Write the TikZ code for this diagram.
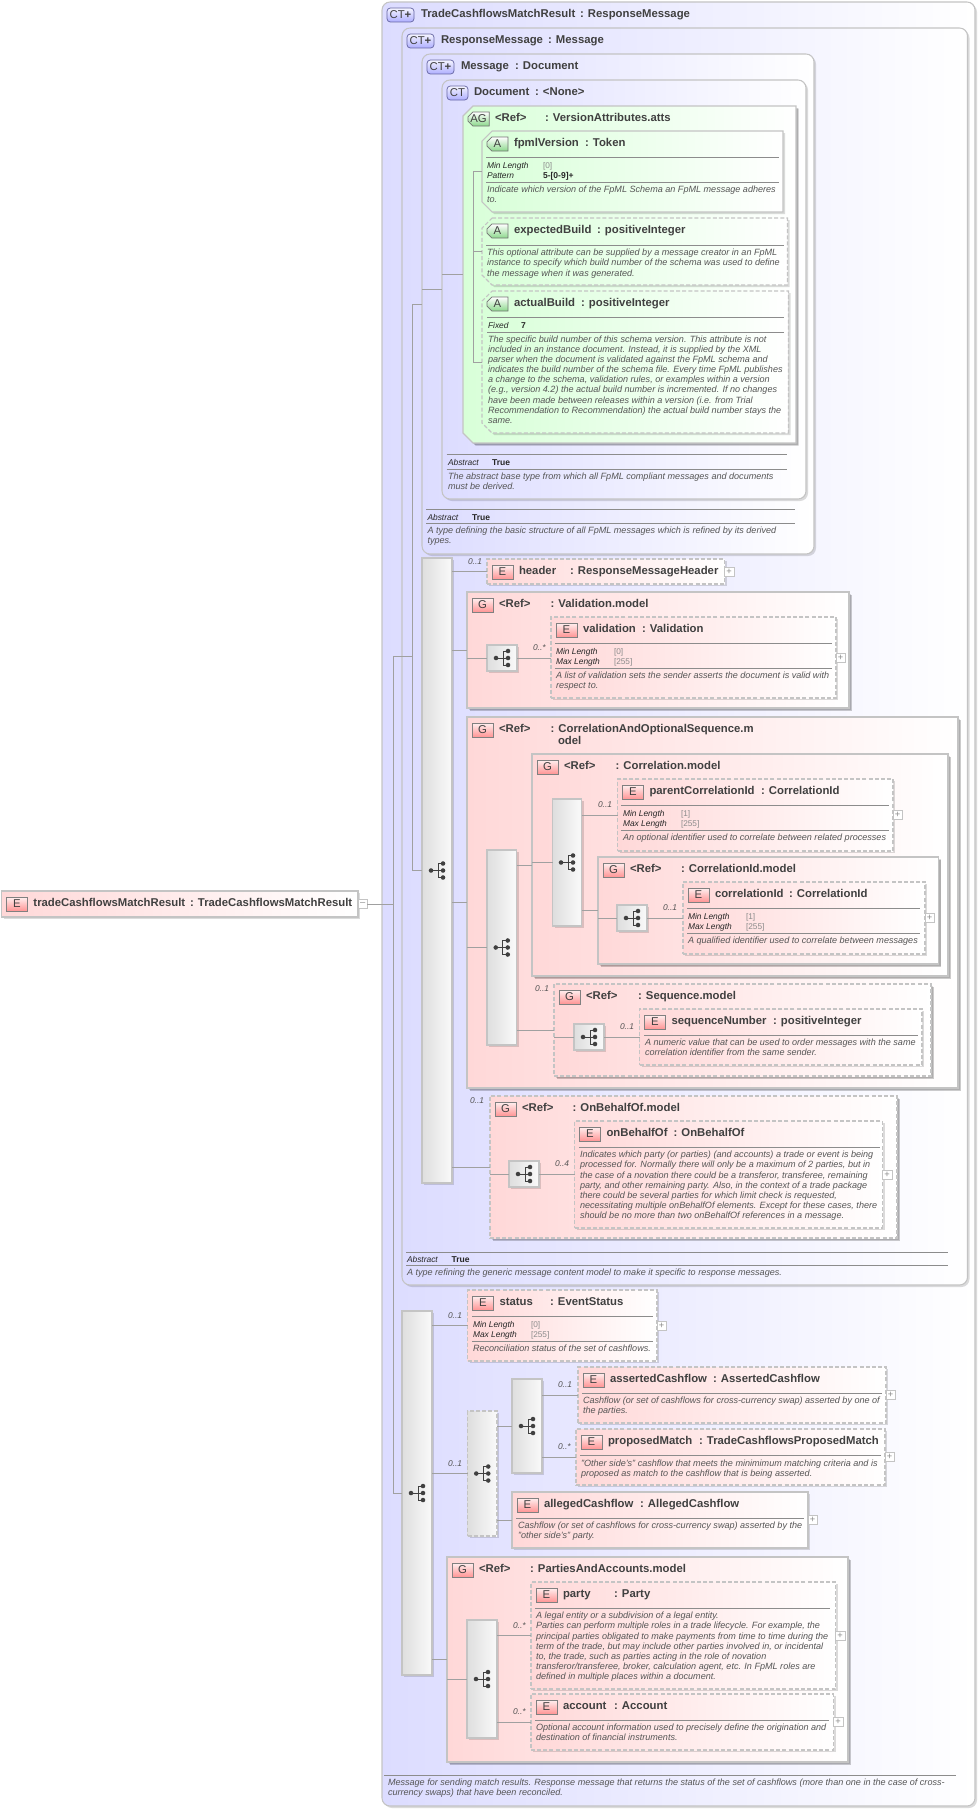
\documentclass[tikz,border=0pt]{standalone}
\usepackage{fontspec}
\setmainfont{Liberation Sans}
\usetikzlibrary{positioning,shadows,shapes.misc}

\definecolor{ctblue}{HTML}{DCDCFF}
\definecolor{elpink}{HTML}{FFD8D8}
\definecolor{atgreen}{HTML}{D8FFD8}
\definecolor{icgreen}{HTML}{8CD88C}
\definecolor{txtdark}{HTML}{404040}
\definecolor{txtdescr}{HTML}{555555}
\definecolor{linegray}{HTML}{A0A0A0}
\definecolor{edgegray}{HTML}{C4C4C4}

% box from its corners, in pixels of the reference
\newcommand{\bx}[6]{%
  \coordinate (#2-o) at (#3,#4);
  \node[#1,minimum width={(#5-#3)*.75pt},minimum height={(#6-#4)*.75pt}] (#2) at ({(#3+#5)/2},{(#4+#6)/2}) {};}
% same, with the two left corners cut by 10 pixels
\newcommand{\abx}[6]{%
  \draw[#1] (#3+10,#4) -- (#5,#4) -- (#5,#6) -- (#3+10,#6) -- (#3,#6-10) -- (#3,#4+10) -- cycle;
  \bx{rectangle}{#2}{#3}{#4}{#5}{#6}}
% icon and title of a box
\newcommand{\ttl}[7][32]{%
  \node[#3] (#2-i) at ([shift={(5,13)}]#2-o) {#4};
  \node[ttlfont] (#2-n) at ([shift={(#1,15.5)}]#2-o) {#5};
  \node[ttlfont] (#2-c) at (#6,0 |- #2-n.base west) {: #7};}
% facet line
\newcommand{\fct}[6]{%
  \node[fctname] (#1-a) at (#2,#3) {#4};
  \node[fctval] (#1-b) at (#5,#3) {#6};}
\newcommand{\fctb}[6]{%
  \node[fctname] (#1-a) at (#2,#3) {#4};
  \node[fctbold] (#1-b) at (#5,#3) {#6};}

\begin{document}
\begin{tikzpicture}[x=.75pt,y=-.75pt,inner sep=0pt,outer sep=0pt,
    seqmark/.pic={
      \draw[txtdark,line width=.6pt] (-6,0) -- (1,0) (6,-7) -- (1,-7) -- (1,7) -- (6,7) (1,0) -- (6,0);
      \foreach \yy in {-7,0,7} \fill[txtdark] (6,\yy) circle (1.7pt);
      \fill[txtdark] (-6,0) circle (1.7pt);
    }]
  \tikzstyle{softshadow}=[drop shadow={shadow xshift=1.5pt,shadow yshift=-1.5pt,opacity=.14,fill=black}]
  \tikzstyle{ctbox}=[rectangle,rounded corners=6pt,draw=edgegray,line width=.8pt,left color=ctblue,right color=white,softshadow]
  \tikzstyle{elbox}=[rectangle,draw=edgegray,line width=.8pt,left color=elpink,right color=white,softshadow]
  \tikzstyle{elopt}=[elbox,dash pattern=on 3pt off 1.6pt]
  \tikzstyle{grpbox}=[elbox,line width=1pt,drop shadow={shadow xshift=2pt,shadow yshift=-2pt,opacity=.2,fill=black}]
  \tikzstyle{gropt}=[grpbox,dash pattern=on 3pt off 1.6pt]
  \tikzstyle{atbox}=[draw=edgegray,line width=.8pt,left color=atgreen,right color=white,softshadow]
  \tikzstyle{atopt}=[atbox,dash pattern=on 3pt off 1.6pt]
  \tikzstyle{agbox}=[atbox,line width=1pt,drop shadow={shadow xshift=2pt,shadow yshift=-2pt,opacity=.2,fill=black}]
  \tikzstyle{barbox}=[rectangle,draw=edgegray,line width=.8pt,left color=black!13,right color=black!2,softshadow]
  \tikzstyle{baropt}=[barbox,dash pattern=on 3pt off 1.6pt]
  \tikzstyle{plusbox}=[rectangle,draw=edgegray,fill=white,line width=.5pt,minimum size=7pt,font=\fontsize{7}{7}\selectfont,text=black!45]
  \tikzstyle{conn}=[draw=linegray,line width=.65pt]
  \tikzstyle{sepline}=[draw=black!45,line width=.55pt]
  \tikzstyle{ttlfont}=[anchor=base west,font=\fontsize{8.5}{10}\selectfont\bfseries,text=txtdark]
  \tikzstyle{icn}=[rectangle,anchor=west,draw=black!50,line width=.55pt,minimum width=15.75pt,minimum height=10.5pt,font=\fontsize{8.5}{9}\selectfont,text=txtdark]
  \tikzstyle{iconE}=[icn,top color=red!6,bottom color=red!42]
  \tikzstyle{iconCT}=[icn,rounded corners=2.5pt,draw=blue!40!black!60,top color=blue!4,bottom color=blue!32]
  \tikzstyle{iconCTP}=[iconCT,minimum width=20.25pt]
  \tikzstyle{iconA}=[chamfered rectangle,chamfered rectangle corners={north west,south west},chamfered rectangle sep=1.8pt,anchor=west,draw=black!55,line width=.55pt,minimum width=15.75pt,minimum height=10.5pt,font=\fontsize{8.5}{9}\selectfont,text=txtdark,top color=white,bottom color=icgreen]
  \tikzstyle{descr}=[anchor=north west,align=left,yshift=-.9pt,font=\fontsize{6.8}{7.6}\selectfont\itshape,text=txtdescr]
  \tikzstyle{fctname}=[anchor=base west,font=\fontsize{6.3}{7.6}\selectfont\itshape,text=black!85]
  \tikzstyle{fctval}=[anchor=base west,font=\fontsize{6.2}{7}\selectfont,text=black!45]
  \tikzstyle{fctbold}=[anchor=base west,font=\fontsize{6.4}{7}\selectfont\bfseries,text=black!85]
  \tikzstyle{occ}=[anchor=base west,font=\fontsize{6.3}{7.6}\selectfont\itshape,text=txtdescr]

  \useasboundingbox (0,0) rectangle (979,1809);

  % Complex types
  \bx{ctbox}{tcmr}{382}{2}{975}{1806}
  \bx{ctbox}{resp}{402}{28}{967.5}{1285}
  \bx{ctbox}{msg}{422}{54}{814}{554}
  \bx{ctbox}{doc}{442}{80}{806}{499}
  \ttl[39]{tcmr}{iconCTP}{CT\textbf{+}}{TradeCashflowsMatchResult}{580}{ResponseMessage}
  \ttl[39]{resp}{iconCTP}{CT\textbf{+}}{ResponseMessage}{548}{Message}
  \ttl[39]{msg}{iconCTP}{CT\textbf{+}}{Message}{515}{Document}
  \ttl{doc}{iconCT}{CT}{Document}{535}{<None>}

  % Attributes
  \abx{agbox}{vers}{463}{106}{796}{443}
  \ttl{vers}{iconA}{AG}{<Ref>}{545}{VersionAttributes.atts}
  \abx{atbox}{fpml}{482}{131}{783}{212}
  \ttl{fpml}{iconA}{A}{fpmlVersion}{585}{Token}
  \fct{fpml-f1}{487}{168}{Min Length}{543}{[0]}
  \fctb{fpml-f2}{487}{178}{Pattern}{543}{5-[0-9]+}
  \node[descr] (fpml-d) at (487,185) {Indicate which version of the FpML Schema an FpML message adheres\\to.};
  \abx{atopt}{expb}{482}{218}{787.5}{285}
  \ttl{expb}{iconA}{A}{expectedBuild}{597}{positiveInteger}
  \node[descr] (expb-d) at (487,248) {This optional attribute can be supplied by a message creator in an FpML\\instance to specify which build number of the schema was used to define\\the message when it was generated.};
  \abx{atopt}{actb}{482}{291}{788.5}{433}
  \ttl{actb}{iconA}{A}{actualBuild}{581}{positiveInteger}
  \fctb{actb-f1}{488}{328}{Fixed}{521}{7}
  \node[descr] (actb-d) at (488,334.5) {The specific build number of this schema version. This attribute is not\\included in an instance document. Instead, it is supplied by the XML\\parser when the document is validated against the FpML schema and\\indicates the build number of the schema file. Every time FpML publishes\\a change to the schema, validation rules, or examples within a version\\(e.g., version 4.2) the actual build number is incremented. If no changes\\have been made between releases within a version (i.e. from Trial\\Recommendation to Recommendation) the actual build number stays the\\same.};

  % Footers of the types
  \fctb{doc-f1}{448}{465}{Abstract}{492}{True}
  \node[descr] (doc-d) at (448,472) {The abstract base type from which all FpML compliant messages and documents\\must be derived.};
  \fctb{msg-f1}{427.5}{520}{Abstract}{472}{True}
  \node[descr] (msg-d) at (427.5,526) {A type defining the basic structure of all FpML messages which is refined by its derived\\types.};
  \fctb{resp-f1}{407}{1262}{Abstract}{451.5}{True}
  \node[descr] (resp-d) at (407,1268) {A type refining the generic message content model to make it specific to response messages.};
  \node[descr] (tcmr-d) at (388,1778) {Message for sending match results. Response message that returns the status of the set of cashflows (more than one in the case of cross-\\currency swaps) that have been reconciled.};

  % Response message content
  \bx{barbox}{barA}{422}{558}{452}{1183}
  \bx{elopt}{head}{487}{559}{724.5}{584}
  \ttl{head}{iconE}{E}{header}{570}{ResponseMessageHeader}

  \bx{grpbox}{gval}{467}{592}{849}{708}
  \ttl{gval}{iconE}{G}{<Ref>}{550.5}{Validation.model}
  \bx{barbox}{seqval}{487}{645}{517}{671}
  \bx{elopt}{vali}{551}{617}{836}{698}
  \ttl{vali}{iconE}{E}{validation}{642}{Validation}
  \fct{vali-f1}{556}{654}{Min Length}{614}{[0]}
  \fct{vali-f2}{556}{664}{Max Length}{614}{[255]}
  \node[descr] (vali-d) at (556,671) {A list of validation sets the sender asserts the document is valid with\\respect to.};

  \bx{grpbox}{gcaos}{467}{717}{958}{1088}
  \ttl{gcaos}{iconE}{G}{<Ref>}{550.5}{CorrelationAndOptionalSequence.m}
  \node[ttlfont] (gcaos-c2) at (558,744) {odel};
  \bx{barbox}{barB}{487}{850}{516.5}{1045}

  \bx{grpbox}{gcorr}{532}{754}{948}{976}
  \ttl{gcorr}{iconE}{G}{<Ref>}{615.5}{Correlation.model}
  \bx{barbox}{barC}{552.5}{799}{581.5}{926}
  \bx{elopt}{pcid}{617.5}{779}{893}{851}
  \ttl{pcid}{iconE}{E}{parentCorrelationId}{761}{CorrelationId}
  \fct{pcid-f1}{623}{816}{Min Length}{681}{[1]}
  \fct{pcid-f2}{623}{826}{Max Length}{681}{[255]}
  \node[descr] (pcid-d) at (623,833) {An optional identifier used to correlate between related processes};

  \bx{grpbox}{gcid}{598}{857}{938.5}{964}
  \ttl{gcid}{iconE}{G}{<Ref>}{681}{CorrelationId.model}
  \bx{barbox}{seqcid}{617}{905}{647}{931}
  \bx{elopt}{cid}{683}{882}{925}{954}
  \ttl{cid}{iconE}{E}{correlationId}{789}{CorrelationId}
  \fct{cid-f1}{688}{919}{Min Length}{746}{[1]}
  \fct{cid-f2}{688}{929}{Max Length}{746}{[255]}
  \node[descr] (cid-d) at (688,936) {A qualified identifier used to correlate between messages};

  \bx{gropt}{gseq}{554}{984}{931}{1076}
  \ttl{gseq}{iconE}{G}{<Ref>}{638}{Sequence.model}
  \bx{barbox}{seqsn}{574}{1024}{604}{1050}
  \bx{elopt}{snum}{639.5}{1009}{922}{1065}
  \ttl{snum}{iconE}{E}{sequenceNumber}{773}{positiveInteger}
  \node[descr] (snum-d) at (645,1038) {A numeric value that can be used to order messages with the same\\correlation identifier from the same sender.};

  \bx{gropt}{gobo}{490}{1096}{897}{1238}
  \ttl{gobo}{iconE}{G}{<Ref>}{572.5}{OnBehalfOf.model}
  \bx{barbox}{seqob}{509}{1161}{539}{1187}
  \bx{elopt}{obo}{574.5}{1121}{882.5}{1228}
  \ttl{obo}{iconE}{E}{onBehalfOf}{673.5}{OnBehalfOf}
  \node[descr] (obo-d) at (580,1150) {Indicates which party (or parties) (and accounts) a trade or event is being\\processed for. Normally there will only be a maximum of 2 parties, but in\\the case of a novation there could be a transferor, transferee, remaining\\party, and other remaining party. Also, in the context of a trade package\\there could be several parties for which limit check is requested,\\necessitating multiple onBehalfOf elements. Except for these cases, there\\should be no more than two onBehalfOf references in a message.};

  % Second sequence
  \bx{barbox}{barD}{402}{1311}{432}{1675}
  \bx{elopt}{stat}{467.5}{1290}{657}{1361}
  \ttl{stat}{iconE}{E}{status}{550}{EventStatus}
  \fct{stat-f1}{473}{1327}{Min Length}{531}{[0]}
  \fct{stat-f2}{473}{1337}{Max Length}{531}{[255]}
  \node[descr] (stat-d) at (473,1344) {Reconciliation status of the set of cashflows.};

  \bx{baropt}{barE}{467.5}{1411}{497}{1536}
  \bx{barbox}{barF}{512}{1379}{542}{1473}
  \bx{elopt}{asrt}{578}{1367}{886}{1423}
  \ttl{asrt}{iconE}{E}{assertedCashflow}{713}{AssertedCashflow}
  \node[descr] (asrt-d) at (583,1396) {Cashflow (or set of cashflows for cross-currency swap) asserted by one of\\the parties.};
  \bx{elopt}{prop}{576}{1429}{885}{1485}
  \ttl{prop}{iconE}{E}{proposedMatch}{699}{TradeCashflowsProposedMatch}
  \node[descr] (prop-d) at (581,1458.5) {"Other side's" cashflow that meets the minimimum matching criteria and is\\proposed as match to the cashflow that is being asserted.};
  \bx{elbox}{algd}{512}{1492}{808}{1548}
  \ttl{algd}{iconE}{E}{allegedCashflow}{640}{AllegedCashflow}
  \node[descr] (algd-d) at (518,1521) {Cashflow (or set of cashflows for cross-currency swap) asserted by the\\"other side's" party.};

  \bx{grpbox}{gpaa}{447}{1557}{848}{1762}
  \ttl{gpaa}{iconE}{G}{<Ref>}{530}{PartiesAndAccounts.model}
  \bx{barbox}{barG}{467}{1620}{497}{1738}
  \bx{elopt}{pty}{531}{1582}{835.5}{1689}
  \ttl{pty}{iconE}{E}{party}{614}{Party}
  \node[descr] (pty-d) at (536,1611) {A legal entity or a subdivision of a legal entity.\\Parties can perform multiple roles in a trade lifecycle. For example, the\\principal parties obligated to make payments from time to time during the\\term of the trade, but may include other parties involved in, or incidental\\to, the trade, such as parties acting in the role of novation\\transferor/transferee, broker, calculation agent, etc. In FpML roles are\\defined in multiple places within a document.};
  \bx{elopt}{acct}{531}{1694}{833.5}{1750}
  \ttl{acct}{iconE}{E}{account}{614}{Account}
  \node[descr] (acct-d) at (536,1723) {Optional account information used to precisely define the origination and\\destination of financial instruments.};

  % Root element
  \bx{elbox}{root}{1.5}{891}{358}{917}
  \ttl{root}{iconE}{E}{tradeCashflowsMatchResult}{190}{TradeCashflowsMatchResult}
  \node[plusbox,right=0pt of root] (root-p) {--};

  % Rules inside the boxes
  \foreach \xa/\xb/\yy in {486/779/157,486/779/182.5,486/784/245,487/784/317,487/784/332,
      446.5/787/454,446.5/787/469,426/795/509,426/795/523,406/948/1252,406/948/1265,
      555/832/643,555/832/668,621/889/805,621/889/830.5,687/920/908,687/920/933,644/918/1035,
      579/880/1147,472/653/1316,472/653/1341,582/882/1393,580/881/1455,516/804/1518,
      535/830/1608,535/829/1720,384/956/1775}
    \draw[sepline] (\xa,\yy) -- (\xb,\yy);

  % Occurrence labels
  \foreach \xx/\yy/\lbl [count=\i] in {468/564/0..1,533/650/0..*,598/807/0..1,663/910/0..1,535/991/0..1,
      620/1029/0..1,470/1103/0..1,555/1166/0..4,448/1318/0..1,448/1466/0..1,558/1387/0..1,558/1449/0..*,
      513/1628/0..*,513/1714/0..*}
    \node[occ] (occ\i) at (\xx,\yy) {\lbl};

  % Plus boxes
  \foreach \nd in {head,vali,pcid,cid,obo,stat,asrt,prop,algd,pty,acct}
    \node[plusbox,right=0pt of \nd] (\nd-p) {+};

  % Compositor marks
  \foreach \nd in {barA,barB,barC,barD,barE,barF,barG,seqval,seqcid,seqsn,seqob}
    \pic at (\nd) {seqmark};

  % Connectors
  \foreach \a/\b in {barA/head,barA/gval,barA/gcaos,barA/gobo,barB/gcorr,barB/gseq,barC/pcid,barC/gcid,
      barD/stat,barD/barE,barD/gpaa,barE/barF,barE/algd,barF/asrt,barF/prop,barG/pty,barG/acct}
    \draw[conn] (\a.east |- \b.west) -- (\b.west);
  \foreach \a/\b in {seqval/vali,seqcid/cid,seqsn/snum,seqob/obo}
    \draw[conn] (\a.east) -- (\b.west |- \a.east);
  \foreach \a/\b in {gval/seqval,gcaos/barB,gcorr/barC,gcid/seqcid,gseq/seqsn,gobo/seqob,gpaa/barG}
    \draw[conn] (\a.west |- \b.west) -- (\b.west);
  \draw[conn] (msg.west |- doc.west) -- (doc.west);
  \draw[conn] (doc.west |- vers.west) -- (vers.west);

  % Trunks
  \coordinate (trA) at (393,904);
  \coordinate (trB) at (412,656);
  \coordinate (trC) at (473,250);
  \draw[conn] (root-p.east) -- (root-p.east -| trA);
  \draw[conn] (resp.west -| trA) -- (barD.west -| trA) -- (barD.west);
  \draw[conn] (resp.west -| trA) -- (resp.west -| trB);
  \draw[conn] (msg.west) -- (msg.west -| trB) -- (barA.west -| trB) -- (barA.west);
  \draw[conn] (fpml.west) -- (fpml.west -| trC) -- (actb.west -| trC) -- (actb.west);
  \draw[conn] (expb.west -| trC) -- (expb.west);
\end{tikzpicture}
\end{document}
